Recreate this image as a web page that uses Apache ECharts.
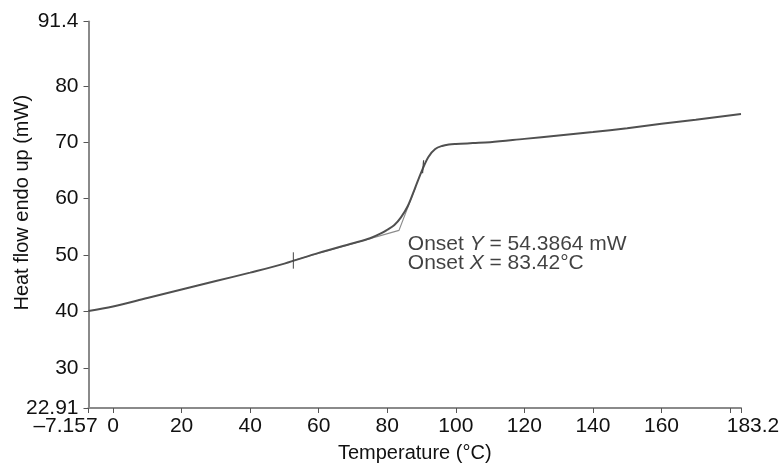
<!DOCTYPE html>
<html>
<head>
<meta charset="utf-8">
<script src="https://cdn.jsdelivr.net/npm/echarts@6/dist/echarts.min.js"></script>
<style>html,body{margin:0;padding:0;background:#fff}#c{width:782px;height:470px}</style>
</head>
<body>
<div id="c"></div>
<script>
// DSC trace: temperature (°C) vs heat flow (mW)
const tempC    = [-7.157, 0, 10, 20, 30, 40, 50, 60, 70, 75, 78, 80, 82, 84, 86, 88, 90, 92, 94, 96, 98, 100, 105, 110, 120, 130, 140, 150, 160, 170, 183.2];
const heatFlow = [40.1, 40.9, 42.4, 43.9, 45.4, 46.9, 48.5, 50.4, 52.1, 53.0, 53.8, 54.5, 55.3, 56.7, 58.7, 61.7, 64.8, 67.4, 68.8, 69.35, 69.6, 69.7, 69.85, 70.0, 70.6, 71.2, 71.8, 72.5, 73.3, 74.0, 75.0];
// Onset construction (baseline & inflection tangents)
const tangentX = [52.6, 83.42, 88.3];
const tangentY = [49.05, 54.3864, 62.1];
// analysis range markers
const marker1X = [52.6, 52.6];
const marker1Y = [47.6, 50.5];
const marker2X = [90.3, 90.6];
const marker2Y = [64.5, 66.8];
// axis ticks
const xTicks = [-7.157, 0, 20, 40, 60, 80, 100, 120, 140, 160, 180, 183.2];
const xLabels = [-7.157, 0, 20, 40, 60, 80, 100, 120, 140, 160, 183.2];
const yTicks = [22.91, 30, 40, 50, 60, 70, 80, 91.4];
const onsetY = 54.3864;
const onsetX = 83.42;
const annotAnchor = [86.0, 50.2];

const zip = (a, b) => a.map((v, i) => [v, b[i]]);
const FONT = 'Liberation Sans';
const chart = echarts.init(document.getElementById('c'));
chart.setOption({
  animation: false,
  backgroundColor: '#fff',
  grid: { left: 88.5, right: 41, top: 21.5, bottom: 62, containLabel: false, outerBoundsMode: 'none' },
  xAxis: {
    type: 'value', min: -7.157, max: 183.2,
    name: 'Temperature (°C)', nameLocation: 'middle', nameGap: 35, nameMoveOverlap: false,
    nameTextStyle: { fontFamily: FONT, fontSize: 20, color: '#111' },
    axisLine: { onZero: false, lineStyle: { color: '#8a8a8a', width: 2 } },
    axisTick: { customValues: xTicks, length: 5, lineStyle: { color: '#555', width: 1 } },
    axisLabel: {
      customValues: xLabels, margin: 8, fontFamily: FONT, fontSize: 21, color: '#111',
      formatter: v => v < 0 ? '{l|\u2013' + Math.abs(v) + '}' : (v > 181 ? '{r|' + v + '}' : String(v)),
      rich: {
        l: { fontFamily: FONT, fontSize: 21, color: '#111', padding: [0, 46, 0, 0] },
        r: { fontFamily: FONT, fontSize: 21, color: '#111', padding: [0, 0, 0, 24] }
      }
    },
    splitLine: { show: false }
  },
  yAxis: {
    type: 'value', min: 22.91, max: 91.4,
    name: 'Heat flow endo up (mW)', nameLocation: 'middle', nameGap: 56, nameRotate: 90, nameMoveOverlap: false,
    nameTextStyle: { fontFamily: FONT, fontSize: 20, color: '#111', padding: [0, 0, 0, 24] },
    axisLine: { onZero: false, lineStyle: { color: '#8a8a8a', width: 2 } },
    axisTick: { customValues: yTicks, length: 5, lineStyle: { color: '#555', width: 1 } },
    axisLabel: { customValues: yTicks, margin: 10, fontFamily: FONT, fontSize: 21, color: '#111' },
    splitLine: { show: false }
  },
  series: [
    { type: 'line', data: zip(tangentX, tangentY), showSymbol: false, smooth: false,
      lineStyle: { color: '#8c8c8c', width: 1.2 }, z: 2 },
    { type: 'line', data: zip(tempC, heatFlow), showSymbol: false, smooth: 0.35,
      lineStyle: { color: '#505050', width: 2 }, z: 3 },
    { type: 'line', data: zip(marker1X, marker1Y), showSymbol: false,
      lineStyle: { color: '#444', width: 1 }, z: 4 },
    { type: 'line', data: zip(marker2X, marker2Y), showSymbol: false,
      lineStyle: { color: '#444', width: 1.2 }, z: 4 },
    { type: 'scatter', data: [annotAnchor], symbolSize: 0, silent: true,
      label: {
        show: true, position: 'right', distance: 0,
        formatter: '{a|Onset }{i|Y}{a| = ' + onsetY + ' mW}\n{a|Onset }{i|X}{a| = ' + onsetX + '°C}',
        rich: {
          a: { fontFamily: FONT, fontSize: 21, color: '#111', lineHeight: 19 },
          i: { fontFamily: FONT, fontSize: 21, color: '#111', fontStyle: 'italic', lineHeight: 19 }
        }
      }
    }
  ]
});
</script>
</body>
</html>
